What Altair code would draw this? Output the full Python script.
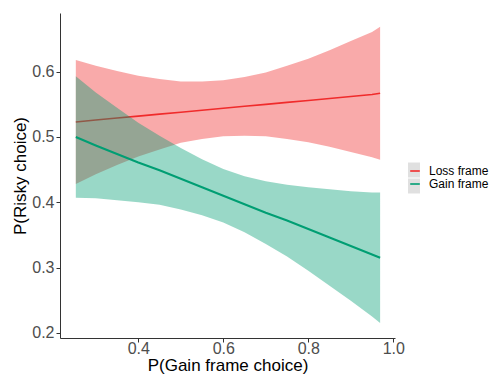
import altair as alt
import pandas as pd

# x grid (P(Gain frame choice))
x_vals = [0.253, 0.30, 0.35, 0.40, 0.45, 0.50, 0.55, 0.60, 0.65, 0.70, 0.75, 0.80, 0.85, 0.90, 0.95, 0.969]

# Loss frame: fitted line and confidence band
loss_fit = [0.523, 0.526, 0.529, 0.532, 0.535, 0.538, 0.541, 0.544, 0.547, 0.550, 0.553, 0.556, 0.559, 0.562, 0.565, 0.567]
loss_hi = [0.618, 0.609, 0.601, 0.594, 0.589, 0.585, 0.585, 0.587, 0.592, 0.599, 0.609, 0.620, 0.633, 0.647, 0.661, 0.669]
loss_lo = [0.428, 0.443, 0.457, 0.470, 0.481, 0.491, 0.497, 0.501, 0.502, 0.501, 0.497, 0.492, 0.485, 0.477, 0.469, 0.465]

# Gain frame: fitted line and confidence band
gain_fit = [0.500, 0.487, 0.474, 0.461, 0.449, 0.436, 0.423, 0.410, 0.397, 0.384, 0.372, 0.359, 0.346, 0.333, 0.320, 0.315]
gain_hi = [0.593, 0.568, 0.545, 0.522, 0.502, 0.483, 0.466, 0.451, 0.440, 0.432, 0.427, 0.423, 0.420, 0.417, 0.415, 0.415]
gain_lo = [0.407, 0.406, 0.403, 0.400, 0.396, 0.389, 0.380, 0.369, 0.354, 0.336, 0.317, 0.295, 0.272, 0.249, 0.225, 0.215]

frames = ["Loss frame", "Gain frame"]
key_ids = ["loss key", "gain key"]
colors = ["#F02B2B", "#009E73"]
x_ticks = [0.4, 0.6, 0.8, 1.0]
y_ticks = [0.2, 0.3, 0.4, 0.5, 0.6]

rows = []
for i, x in enumerate(x_vals):
    rows.append({"x": x, "frame": "Loss frame", "fit": loss_fit[i], "lo": loss_lo[i], "hi": loss_hi[i]})
for i, x in enumerate(x_vals):
    rows.append({"x": x, "frame": "Gain frame", "fit": gain_fit[i], "lo": gain_lo[i], "hi": gain_hi[i]})
df = pd.DataFrame(rows)

FONT = "Liberation Sans"

xscale = alt.Scale(domain=[0.2158, 1.004], nice=False, zero=False)
yscale = alt.Scale(domain=[0.192, 0.69], nice=False, zero=False)

xaxis = alt.Axis(values=x_ticks, format=".1f", grid=False, tickSize=4,
                 labelBaseline="alphabetic", labelPadding=11,
                 labelFontSize=16, labelColor="#4D4D4D", labelFont=FONT,
                 title="P(Gain frame choice)", titleFontSize=17, titleFont=FONT,
                 titleFontWeight="normal", titleColor="#000000",
                 titleBaseline="alphabetic", titleY=32,
                 domainColor="#333333", tickColor="#333333")
yaxis = alt.Axis(values=y_ticks, format=".1f", grid=False, tickSize=4, labelPadding=2,
                 labelFontSize=16, labelColor="#4D4D4D", labelFont=FONT,
                 title="P(Risky choice)", titleFontSize=17, titleFont=FONT,
                 titleFontWeight="normal", titleColor="#000000",
                 titleBaseline="alphabetic", titleX=-34.5,
                 domainColor="#333333", tickColor="#333333")

LX, LY = 348, 151

base = alt.Chart(df)

# gray key backgrounds (legend only; distinct domain so it is not merged)
keys = base.transform_filter("false").transform_calculate(key="datum.frame").mark_point(
    filled=True, shape="square").encode(
    x=alt.X("x:Q", scale=xscale, axis=xaxis),
    y=alt.Y("fit:Q", scale=yscale, axis=yaxis),
    color=alt.Color("key:N", scale=alt.Scale(domain=key_ids, range=["#D3D3D3", "#D3D3D3"]),
                    legend=alt.Legend(title=None, orient="none", legendX=LX, legendY=LY,
                                      symbolType="M-1,-1.25H1V1.25H-1Z", symbolSize=144,
                                      symbolStrokeWidth=0, symbolFillColor="#D3D3D3",
                                      labelExpr="''", labelFontSize=12, labelFont=FONT,
                                      labelOffset=7, rowPadding=0, padding=0)),
)

def band(name, color):
    return base.transform_filter(alt.datum.frame == name).mark_area(fill=color, opacity=0.4).encode(
        x=alt.X("x:Q", scale=xscale, axis=xaxis),
        y=alt.Y("lo:Q", scale=yscale, axis=yaxis),
        y2="hi:Q",
    )

def fitline(name, width):
    return base.transform_filter(alt.datum.frame == name).mark_line(strokeWidth=width).encode(
        x=alt.X("x:Q", scale=xscale, axis=xaxis),
        y=alt.Y("fit:Q", scale=yscale, axis=yaxis),
        stroke=alt.Stroke("frame:N", scale=alt.Scale(domain=frames, range=colors),
                          legend=alt.Legend(title=None, orient="none", legendX=LX, legendY=LY,
                                            symbolType="M-0.8,0H0.8", symbolSize=144,
                                            symbolStrokeWidth=1.6,
                                            labelFontSize=12, labelFont=FONT, labelColor="#000000",
                                            labelOffset=7, rowPadding=0, padding=0)),
    )

chart = alt.layer(
    keys,
    band("Loss frame", colors[0]),
    fitline("Loss frame", 1.6),
    band("Gain frame", colors[1]),
    fitline("Gain frame", 2),
).properties(
    width=335, height=325,
    autosize=alt.AutoSizeParams(type="none"),
    padding={"left": 52, "top": 5, "right": 94, "bottom": 36},
).configure_view(stroke=None).configure_axis(domainWidth=1, tickWidth=1)

chart.save("out.html", embed_options={"renderer": "svg", "actions": False})
